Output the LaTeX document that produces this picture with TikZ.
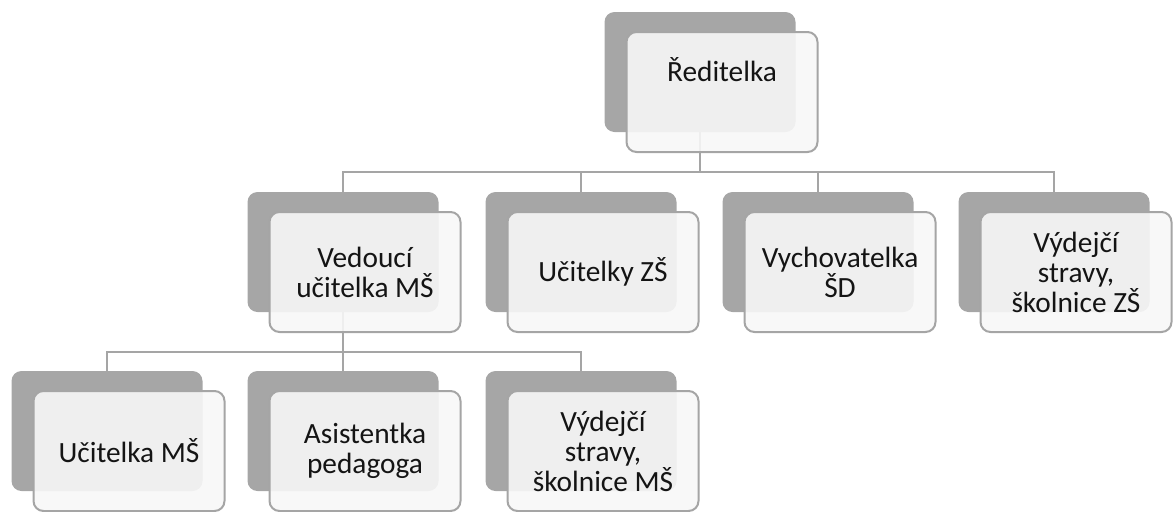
\documentclass[tikz,border=0pt]{standalone}
\usepackage{fontspec}
\setmainfont{Carlito}
\usetikzlibrary{positioning}
\definecolor{boxgray}{HTML}{A6A6A6}
\definecolor{boxwhite}{HTML}{F7F7F7}
\definecolor{linegray}{HTML}{A5A5A5}
\begin{document}
\begin{tikzpicture}[x=0.75pt, y=-0.75pt,
    back/.style={rectangle, rounded corners=7.5pt, fill=boxgray, minimum width=143.25pt, minimum height=90pt, inner sep=0pt},
    front/.style={rectangle, rounded corners=7.5pt, draw=linegray, line width=1.5pt, fill=boxwhite, fill opacity=0.9, text opacity=1, minimum width=143.25pt, minimum height=90pt, inner sep=2pt, align=center, font=\fontsize{22}{22.5}\selectfont, text=black!92},
    link/.style={draw=linegray, line width=1.5pt}]
        \useasboundingbox (0,0) rectangle (1173,511);

        % gray back plates
        \node[back] (gRed)  at (700,72)  {};
        \node[back] (gVed)  at (343,252) {};
        \node[back] (gUcZ)  at (581,252) {};
        \node[back] (gVych) at (818,252) {};
        \node[back] (gVydZ) at (1054,252) {};
        \node[back] (gUcM)  at (107,431) {};
        \node[back] (gAsi)  at (343,431) {};
        \node[back] (gVydM) at (581,431) {};

        % connectors
        \foreach \n in {gVed,gUcZ,gVych,gVydZ}
            \draw[link] (gRed.south) -- ++(0,40) -| (\n.north);
        \foreach \n in {gUcM,gAsi,gVydM}
            \draw[link] (gVed.south) -- ++(0,40) -| (\n.north);

        % white front cards
        \node[front] (wRed)  at (722,92)  {};
        \node[font=\fontsize{22}{22.5}\selectfont, text=black!92] (tRed) at (722,70) {Ředitelka};
        \node[front] (wVed)  at (365,272) {Vedoucí\\učitelka MŠ};
        \node[front] (wUcZ)  at (603,272) {Učitelky ZŠ};
        \node[front] (wVych) at (840,272) {Vychovatelka\\ŠD};
        \node[front] (wVydZ) at (1076,272) {Výdejčí\\stravy,\\školnice ZŠ};
        \node[front] (wUcM)  at (129,451) {Učitelka MŠ};
        \node[front] (wAsi)  at (365,451) {Asistentka\\pedagoga};
        \node[front] (wVydM) at (603,451) {Výdejčí\\stravy,\\školnice MŠ};
\end{tikzpicture}
\end{document}
